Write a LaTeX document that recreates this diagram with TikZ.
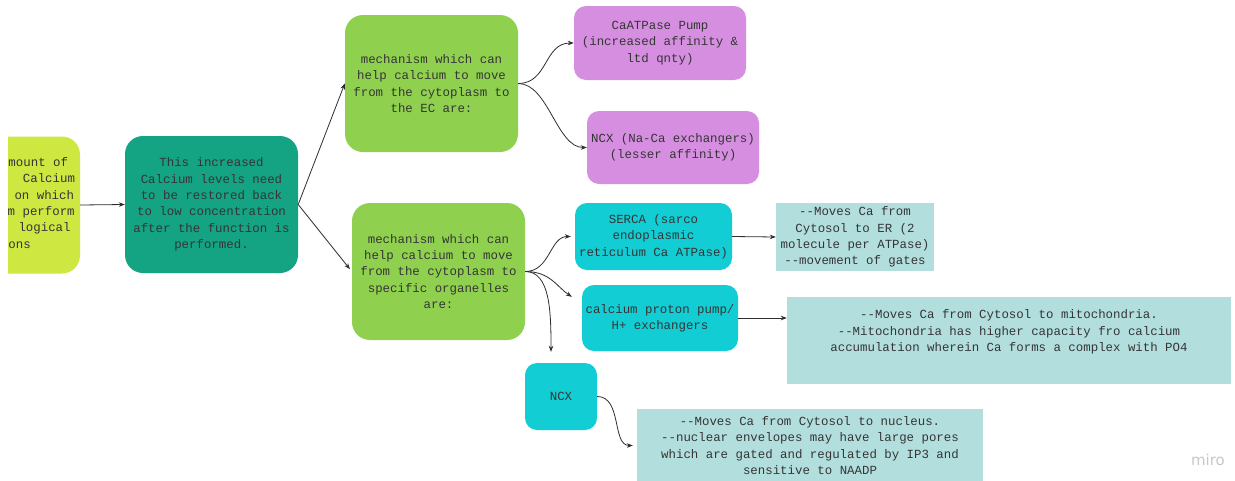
\documentclass[tikz,border=0pt]{standalone}
\usepackage{fontspec}
\setmonofont{Liberation Mono}
\newfontfamily\logofont{DejaVu Sans}
\usetikzlibrary{arrows.meta,calc}
\definecolor{limebox}{HTML}{CEE741}
\definecolor{tealbox}{HTML}{14A383}
\definecolor{greenbox}{HTML}{8FD14F}
\definecolor{purplebox}{HTML}{D68FE0}
\definecolor{cyanbox}{HTML}{12CDD4}
\definecolor{infobox}{HTML}{B3DEDE}
\definecolor{txt}{HTML}{353535}
\definecolor{conncol}{HTML}{2E2E2E}
\newcommand\boxfont{\ttfamily\fontsize{12.4}{16.4}\selectfont}
\begin{document}
\begin{tikzpicture}[x=1pt,y=-1pt,
  base/.style={draw=none, inner sep=0pt, align=center, text=txt, font=\boxfont},
  bigbox/.style={base, rounded corners=18pt, minimum width=173pt, minimum height=137pt},
  smallbox/.style={base, rounded corners=12pt},
  infob/.style={base, fill=infobox},
  frag/.style={inner sep=0pt, anchor=west, text=txt, font=\boxfont, text height=9pt, text depth=3pt},
  conn/.style={draw=conncol, line width=0.8pt, -{Stealth[length=6pt,width=4.5pt]}}]
\useasboundingbox (0,0) rectangle (1235,480);
\fill[white] (0,0) rectangle (1235,480);
\begin{scope}
\clip (8,0) rectangle (1235,480);
\node[bigbox, fill=limebox] (yellow) at (-6.5,205) {};
\node[frag] (f1) at (8.3,163) {mount of};
\node[frag] (f2) at (22.7,179) {Calcium};
\node[frag] (f3) at (14.3,196) {on which};
\node[frag] (f4) at (7.5,212) {m perform};
\node[frag] (f5) at (18.3,228) {logical};
\node[frag] (f6) at (8.3,245) {ons};
\end{scope}
\node[bigbox, fill=tealbox] (restore) at (211.5,204.5) {This increased\\Calcium levels need\\to be restored back\\to low concentration\\after the function is\\performed.};
\node[bigbox, fill=greenbox] (mechEC) at (431.5,83.5) {mechanism which can\\help calcium to move\\from the cytoplasm to\\the EC are:};
\node[bigbox, fill=greenbox] (mechOrg) at (438.5,271.5) {mechanism which can\\help calcium to move\\from the cytoplasm to\\specific organelles\\are:};
\node[smallbox, fill=purplebox, minimum width=172pt, minimum height=74pt] (caatp) at (660,43) {CaATPase Pump\\(increased affinity \&\\ltd qnty)};
\node[smallbox, fill=purplebox, minimum width=172pt, minimum height=73pt] (ncxa) at (673,147.5) {NCX (Na-Ca exchangers)\\(lesser affinity)};
\node[smallbox, fill=cyanbox, minimum width=157pt, minimum height=67pt] (serca) at (653.5,236.5) {SERCA (sarco\\endoplasmic\\reticulum Ca ATPase)};
\node[smallbox, fill=cyanbox, minimum width=156pt, minimum height=66pt] (pump) at (660,318) {calcium proton pump/\\H+ exchangers};
\node[smallbox, fill=cyanbox, minimum width=72pt, minimum height=67pt] (ncxb) at (561,396.5) {NCX};
\node[infob, minimum width=158pt, minimum height=68pt] (info1) at (855,237) {-{}-Moves Ca from\\Cytosol to ER (2\\molecule per ATPase)\\-{}-movement of gates};
\node[infob, minimum width=444pt, minimum height=87pt] (info2) at (1009,340.5) {};
\node[base] (info2t) at (1009,332) {-{}-Moves Ca from Cytosol to mitochondria.\\-{}-Mitochondria has higher capacity fro calcium\\accumulation wherein Ca forms a complex with PO4};
\node[infob, minimum width=346pt, minimum height=73pt] (info3) at (810,445.5) {-{}-Moves Ca from Cytosol to nucleus.\\-{}-nuclear envelopes may have large pores\\which are gated and regulated by IP3 and\\sensitive to NAADP};
\node[text=black!22, font=\logofont\fontsize{15}{15}\selectfont, inner sep=0pt] (logo) at (1208,460) {miro};
% connectors
\draw[conn] (yellow.east) -- (restore.west);
\draw[conn] (restore.east) -- (mechEC.west);
\draw[conn, shorten >=3pt] (restore.east) -- (mechOrg.west);
\draw[conn] (mechEC.east) .. controls +(30,0) and +(-30,0) .. (caatp.west);
\draw[conn] (mechEC.east) .. controls +(30,0) and +(-30,0) .. (ncxa.west);
\draw[conn, shorten >=4pt] (mechOrg.east) .. controls +(25,0) and +(-25,0) .. (serca.west);
\draw[conn] (mechOrg.east) .. controls +(25,0) and +(-15,-10) .. ($(pump.north west)+(-10,12)$);
\draw[conn] (mechOrg.east) .. controls +(25,0) and +(0,-40) .. ($(ncxb.north)+(-10,-11)$);
\draw[conn] (serca.east) -- (info1.west);
\draw[conn] (pump.east) -- (pump.east -| info2.west);
\draw[conn, shorten >=4pt] (ncxb.east) .. controls +(25,0) and +(-25,0) .. (info3.west);
\end{tikzpicture}
\end{document}
